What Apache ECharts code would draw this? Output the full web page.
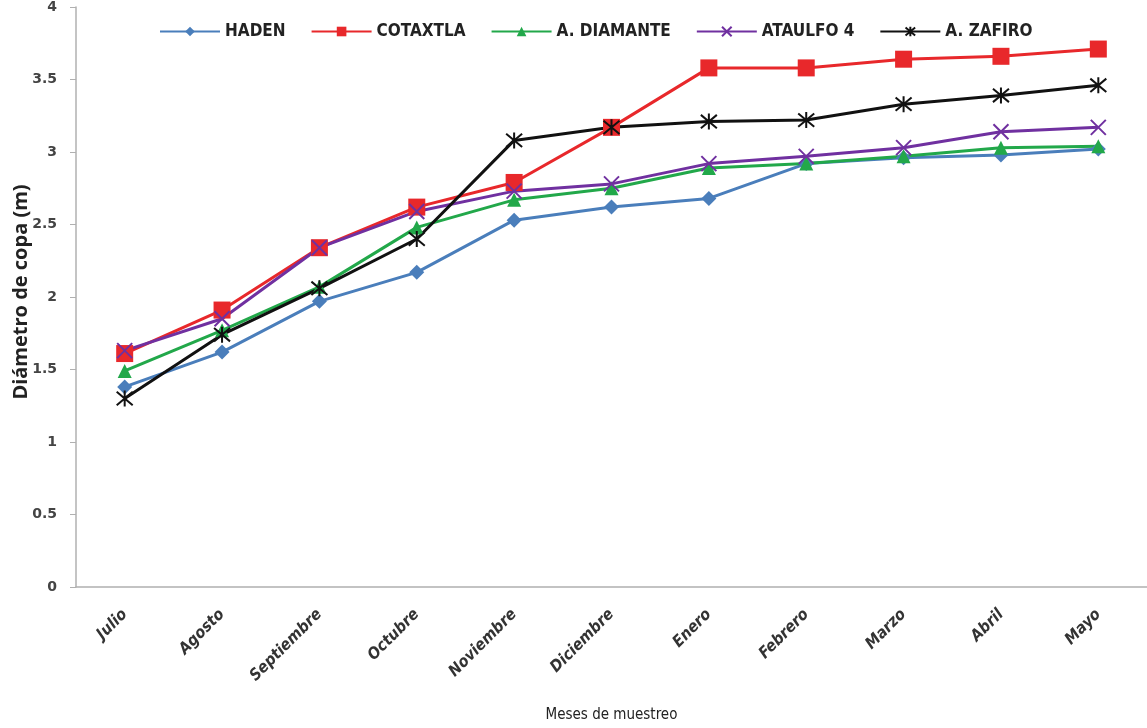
<!DOCTYPE html>
<html>
<head>
<meta charset="utf-8">
<script src="https://cdn.jsdelivr.net/npm/echarts@6/dist/echarts.min.js"></script>
<style>html,body{margin:0;padding:0;background:#fff}#c{width:1147px;height:728px}</style>
</head>
<body>
<div id="c"></div>
<script>
var categories = ['Julio','Agosto','Septiembre','Octubre','Noviembre','Diciembre','Enero','Febrero','Marzo','Abril','Mayo'];
var haden = [1.38, 1.62, 1.97, 2.17, 2.53, 2.62, 2.68, 2.92, 2.96, 2.98, 3.02];
var cotaxtla = [1.61, 1.91, 2.34, 2.62, 2.79, 3.17, 3.58, 3.58, 3.64, 3.66, 3.71];
var diamante = [1.49, 1.77, 2.07, 2.48, 2.67, 2.75, 2.89, 2.92, 2.97, 3.03, 3.04];
var ataulfo = [1.63, 1.85, 2.34, 2.59, 2.73, 2.78, 2.92, 2.97, 3.03, 3.14, 3.17];
var zafiro = [1.30, 1.74, 2.06, 2.40, 3.08, 3.17, 3.21, 3.22, 3.33, 3.39, 3.46];
var seriesNames = ['HADEN','COTAXTLA','A. DIAMANTE','ATAULFO 4','A. ZAFIRO'];
var yTitle = 'Diámetro de copa (m)';
var xTitle = 'Meses de muestreo';

var font = '"DejaVu Sans Condensed", "Liberation Sans", sans-serif';
var chart = echarts.init(document.getElementById('c'));

function mk(name, data, color, symbol, size, stroke) {
  return {
    name: name, type: 'line', data: data,
    symbol: symbol, symbolSize: size,
    lineStyle: {color: color, width: 3},
    itemStyle: stroke ? {color: color, borderColor: color, borderWidth: 2} : {color: color},
    emphasis: {disabled: true},
    animation: false
  };
}

chart.setOption({
  backgroundColor: '#fff',
  grid: {left: 76, right: -8, top: 6, bottom: 138, containLabel: false},
  legend: {
    top: 18, left: 154,
    itemWidth: 60, itemHeight: 12, itemGap: 25,
    textStyle: {fontFamily: font, fontWeight: 'bold', fontSize: 17, color: '#222'},
    data: seriesNames
  },
  xAxis: {
    type: 'category', data: categories, boundaryGap: true,
    axisLine: {lineStyle: {color: '#b0b0b0', width: 1.5}},
    axisTick: {show: false},
    axisLabel: {rotate: 45, margin: 25, fontFamily: font, fontStyle: 'italic', fontWeight: 'bold', fontSize: 16, color: '#333'},
    name: xTitle, nameLocation: 'middle', nameGap: 121,
    nameTextStyle: {fontFamily: font, fontSize: 15, color: '#222'}
  },
  yAxis: {
    type: 'value', min: 0, max: 4, interval: 0.5,
    axisLine: {show: true, lineStyle: {color: '#b0b0b0', width: 1.5}},
    axisTick: {show: true, length: 6, lineStyle: {color: '#b0b0b0'}},
    splitLine: {show: false},
    axisLabel: {margin: 19, fontFamily: '"DejaVu Sans", sans-serif', fontWeight: 'bold', fontSize: 14, color: '#444'}
  },
  graphic: [{
    type: 'text', x: 21, y: 292, rotation: Math.PI / 2,
    style: {text: yTitle, textAlign: 'center', textVerticalAlign: 'middle',
      font: 'bold 20px "Open Sans", sans-serif', fill: '#222'}
  }],
  series: [
    mk(seriesNames[0], haden, '#4a7ebb', 'diamond', 15, false),
    mk(seriesNames[1], cotaxtla, '#e8282b', 'rect', 17, false),
    mk(seriesNames[2], diamante, '#22a84a', 'triangle', 14, false),
    mk(seriesNames[3], ataulfo, '#7030a0', 'path://M0,0L10,10M10,0L0,10', 15, true),
    mk(seriesNames[4], zafiro, '#111111', 'path://M0,0L10,10M10,0L0,10M5,-1L5,11', 16, true)
  ]
});
</script>
</body>
</html>
